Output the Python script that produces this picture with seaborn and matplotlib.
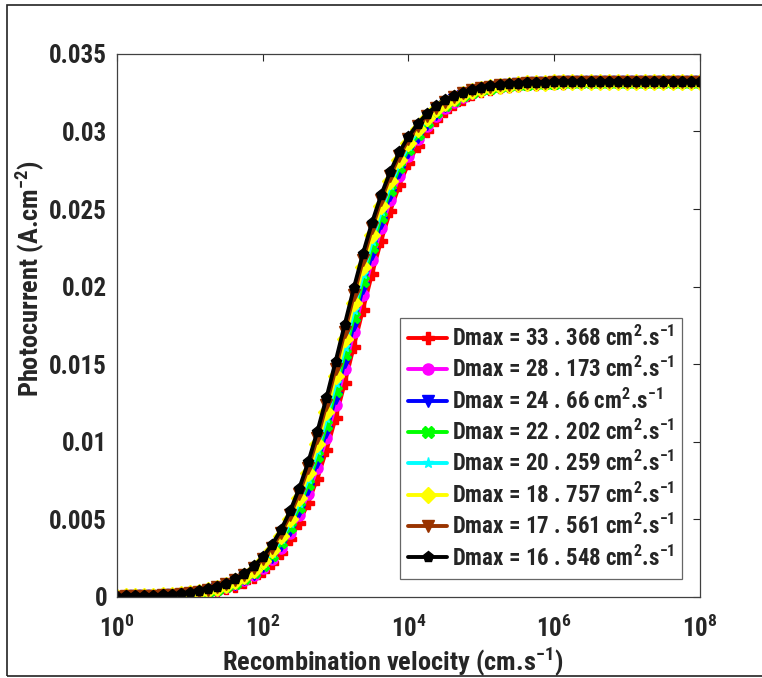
import numpy as np
import pandas as pd
import matplotlib
matplotlib.use('Agg')
import matplotlib.pyplot as plt
from matplotlib.lines import Line2D
from matplotlib.patches import Rectangle
from matplotlib import font_manager
import seaborn as sns

# photocurrent vs recombination velocity, one curve per Dmax value
# values, in mA.cm-2 (converted to A.cm-2 below)

sf = np.logspace(0, 8, 65)   # recombination velocity grid (cm.s-1)

j_red = [0.018, 0.023, 0.031, 0.042, 0.056, 0.074, 0.099, 0.132, 0.175, 0.233, 0.311, 0.413, 0.548,
         0.727, 0.962, 1.271, 1.674, 2.195, 2.864, 3.712, 4.772, 6.073, 7.633, 9.454, 11.513, 13.762,
         16.122, 18.50, 20.81, 22.95, 24.87, 26.53, 27.94, 29.09, 30.02, 30.76, 31.33, 31.78, 32.12,
         32.39, 32.59, 32.74, 32.85, 32.94, 33.00, 33.05, 33.09, 33.12, 33.14, 33.15, 33.17, 33.18,
         33.18, 33.19, 33.19, 33.19, 33.19, 33.20, 33.20, 33.20, 33.20, 33.20, 33.20, 33.20, 33.20]
j_magenta = [0.020, 0.026, 0.035, 0.047, 0.063, 0.083, 0.111, 0.148, 0.197, 0.262, 0.348, 0.462, 0.614,
             0.814, 1.076, 1.420, 1.866, 2.443, 3.180, 4.109, 5.262, 6.665, 8.330, 10.251, 12.394,
             14.698, 17.08, 19.44, 21.69, 23.75, 25.57, 27.13, 28.43, 29.49, 30.34, 31.00, 31.53, 31.93,
             32.24, 32.47, 32.65, 32.79, 32.89, 32.97, 33.02, 33.07, 33.10, 33.13, 33.14, 33.16, 33.17,
             33.18, 33.18, 33.19, 33.19, 33.19, 33.19, 33.20, 33.20, 33.20, 33.20, 33.20, 33.20, 33.20, 33.20]
j_blue = [0.021, 0.028, 0.037, 0.050, 0.066, 0.088, 0.117, 0.156, 0.208, 0.277, 0.368, 0.489, 0.649,
          0.860, 1.138, 1.500, 1.970, 2.577, 3.349, 4.321, 5.522, 6.977, 8.695, 10.663, 12.844, 15.170,
          17.55, 19.90, 22.12, 24.13, 25.90, 27.41, 28.66, 29.67, 30.48, 31.12, 31.62, 32.00, 32.29,
          32.51, 32.68, 32.81, 32.91, 32.98, 33.03, 33.08, 33.11, 33.13, 33.15, 33.16, 33.18, 33.18,
          33.19, 33.19, 33.19, 33.19, 33.20, 33.20, 33.20, 33.20, 33.20, 33.20, 33.20, 33.20, 33.20]
j_green = [0.022, 0.030, 0.039, 0.053, 0.070, 0.093, 0.125, 0.166, 0.220, 0.293, 0.390, 0.518, 0.687,
           0.910, 1.203, 1.584, 2.080, 2.717, 3.527, 4.542, 5.793, 7.300, 9.069, 11.084, 13.300, 15.646,
           18.03, 20.36, 22.54, 24.51, 26.22, 27.68, 28.88, 29.85, 30.62, 31.23, 31.70, 32.06, 32.34,
           32.55, 32.71, 32.83, 32.92, 32.99, 33.04, 33.08, 33.11, 33.13, 33.15, 33.16, 33.18, 33.18,
           33.19, 33.19, 33.19, 33.19, 33.20, 33.20, 33.20, 33.20, 33.20, 33.20, 33.20, 33.20, 33.20]
j_cyan = [0.023, 0.031, 0.042, 0.056, 0.074, 0.099, 0.132, 0.175, 0.233, 0.311, 0.413, 0.548, 0.727,
          0.962, 1.271, 1.674, 2.195, 2.864, 3.712, 4.772, 6.073, 7.633, 9.454, 11.513, 13.762, 16.122,
          18.50, 20.81, 22.95, 24.87, 26.53, 27.94, 29.09, 30.02, 30.76, 31.33, 31.78, 32.12, 32.39,
          32.59, 32.74, 32.85, 32.94, 33.00, 33.05, 33.09, 33.12, 33.14, 33.15, 33.17, 33.18, 33.18,
          33.19, 33.19, 33.19, 33.19, 33.20, 33.20, 33.20, 33.20, 33.20, 33.20, 33.20, 33.20, 33.20]
j_yellow = [0.025, 0.033, 0.044, 0.059, 0.079, 0.105, 0.139, 0.186, 0.247, 0.329, 0.437, 0.580, 0.769,
            1.018, 1.343, 1.768, 2.316, 3.018, 3.906, 5.012, 6.364, 7.976, 9.848, 11.950, 14.228, 16.60,
            18.97, 21.25, 23.35, 25.22, 26.84, 28.19, 29.29, 30.18, 30.88, 31.43, 31.86, 32.18, 32.43,
            32.62, 32.76, 32.87, 32.95, 33.01, 33.06, 33.10, 33.12, 33.14, 33.16, 33.17, 33.18, 33.18,
            33.19, 33.19, 33.19, 33.19, 33.20, 33.20, 33.20, 33.20, 33.20, 33.20, 33.20, 33.20, 33.20]
j_brown = [0.026, 0.035, 0.047, 0.063, 0.083, 0.111, 0.148, 0.197, 0.262, 0.348, 0.462, 0.614, 0.814,
           1.076, 1.420, 1.866, 2.443, 3.180, 4.109, 5.262, 6.665, 8.330, 10.251, 12.394, 14.698, 17.08,
           19.44, 21.69, 23.75, 25.57, 27.13, 28.43, 29.49, 30.34, 31.00, 31.53, 31.93, 32.24, 32.47,
           32.65, 32.79, 32.89, 32.97, 33.02, 33.07, 33.10, 33.13, 33.14, 33.16, 33.17, 33.18, 33.18,
           33.19, 33.19, 33.19, 33.19, 33.20, 33.20, 33.20, 33.20, 33.20, 33.20, 33.20, 33.20, 33.20]
j_black = [0.028, 0.037, 0.050, 0.066, 0.088, 0.117, 0.156, 0.208, 0.277, 0.368, 0.489, 0.649, 0.860,
           1.138, 1.500, 1.970, 2.577, 3.349, 4.321, 5.522, 6.977, 8.695, 10.663, 12.844, 15.170, 17.55,
           19.90, 22.12, 24.13, 25.90, 27.41, 28.66, 29.67, 30.48, 31.12, 31.62, 32.00, 32.29, 32.51,
           32.68, 32.81, 32.91, 32.98, 33.03, 33.08, 33.11, 33.13, 33.15, 33.16, 33.18, 33.18, 33.19,
           33.19, 33.19, 33.19, 33.20, 33.20, 33.20, 33.20, 33.20, 33.20, 33.20, 33.20, 33.20, 33.20]

dmax_labels = ['33 . 368', '28 . 173', '24 . 66', '22 . 202', '20 . 259', '18 . 757', '17 . 561', '16 . 548']
curves = [j_red, j_magenta, j_blue, j_green, j_cyan, j_yellow, j_brown, j_black]
colors = ['#ff0000', '#ff00ff', '#0000ff', '#00ff00', '#00ffff', '#ffff00', '#993300', '#000000']
markers = ['P', 'o', 'v', 'X', '*', 'D', 'v', 'p']

y_ticks = [0, 0.005, 0.01, 0.015, 0.02, 0.025, 0.03, 0.035]
y_ticklabels = ['0', '0.005', '0.01', '0.015', '0.02', '0.025', '0.03', '0.035']
x_ticks = [1e0, 1e2, 1e4, 1e6, 1e8]
x_ticklabels = [r'$\mathbf{10^{0}}$', r'$\mathbf{10^{2}}$', r'$\mathbf{10^{4}}$',
                r'$\mathbf{10^{6}}$', r'$\mathbf{10^{8}}$']

labels = [r'Dmax = ' + d + r' cm$^{\mathbf{2}}$.s$^{\mathbf{-1}}$' for d in dmax_labels]

# long table for seaborn
rows = []
for lab, c in zip(labels, curves):
    for s, j in zip(sf, c):
        rows.append({'sf': s, 'J': j / 1000.0, 'serie': lab})
df = pd.DataFrame(rows)

# pick a narrow bold face if one is installed (reference uses a condensed heavy font)
names = {f.name for f in font_manager.fontManager.ttflist}
narrow = [n for n in ['Liberation Sans Narrow', 'DejaVu Sans Condensed', 'Roboto Condensed',
                      'Open Sans Condensed'] if n in names]
main_font = narrow[0] if narrow else 'DejaVu Sans'

sns.set_style('white')
plt.rcParams['font.family'] = [main_font, 'DejaVu Sans']
plt.rcParams['font.weight'] = 'black'
plt.rcParams['font.stretch'] = 'condensed'
plt.rcParams['mathtext.fontset'] = 'custom'
plt.rcParams['mathtext.rm'] = main_font + ':black:stretch=condensed'
plt.rcParams['mathtext.bf'] = main_font + ':black:stretch=condensed'
plt.rcParams['mathtext.it'] = main_font + ':black:stretch=condensed'
plt.rcParams['axes.unicode_minus'] = False

fig = plt.figure(figsize=(7.62, 6.78), dpi=100)
ax = fig.add_axes([0.1535, 0.1195, 0.765, 0.801])

sns.lineplot(data=df, x='sf', y='J', hue='serie', style='serie',
             hue_order=labels, style_order=labels,
             palette=dict(zip(labels, colors)), markers=dict(zip(labels, markers)),
             dashes=False, linewidth=2.8, markersize=8, legend=False, ax=ax)

# MATLAB style markers: filled with line colour
for ln in ax.lines:
    ln.set_markeredgecolor(ln.get_color())
    ln.set_markerfacecolor(ln.get_color())
    ln.set_markeredgewidth(1.0)

ax.set_xscale('log')
ax.set_xlim(1, 1e8)
ax.set_ylim(0, 0.035)
ax.set_xticks(x_ticks)
ax.set_xticklabels(x_ticklabels)
ax.xaxis.set_minor_locator(matplotlib.ticker.NullLocator())
ax.set_yticks(y_ticks)
ax.set_yticklabels(y_ticklabels)
ax.tick_params(axis='both', which='major', direction='in', length=5, width=0.8,
               top=True, right=True, labelsize=18, colors='#262626', pad=7)
ax.tick_params(axis='x', pad=13)
for sp in ax.spines.values():
    sp.set_color('#404040')
    sp.set_linewidth(0.9)

ax.set_xlabel(r'Recombination velocity (cm.s$^{\mathbf{-1}}$)', fontsize=19, fontweight='black', color='#262626')
ax.set_ylabel(r'Photocurrent (A.cm$^{\mathbf{-2}}$)', fontsize=19, fontweight='black', color='#262626')
ax.xaxis.label.set_va('center')
ax.yaxis.label.set_va('center')
ax.xaxis.set_label_coords(0.473, -0.12)
ax.yaxis.set_label_coords(-0.149, 0.587)

handles = [Line2D([0], [0], color=c, marker=m, markersize=8, linewidth=2.8,
                  markerfacecolor=c, markeredgecolor=c) for c, m in zip(colors, markers)]
leg = ax.legend(handles, labels, loc='lower right', bbox_to_anchor=(0.97, 0.034),
                fontsize=16.5, frameon=True, fancybox=False, edgecolor='#404040',
                handlelength=1.7, handletextpad=0.2, labelspacing=0.27, borderpad=0.35,
                borderaxespad=0)
leg.get_frame().set_linewidth(0.9)
for t in leg.get_texts():
    t.set_fontweight('black')

# frame of the original screenshot
fig.add_artist(Rectangle((7 / 762, 2 / 678), 1.0, 671 / 678, transform=fig.transFigure,
                         fill=False, edgecolor='#222222', linewidth=1.2))

fig.savefig('out.png', dpi=100)
